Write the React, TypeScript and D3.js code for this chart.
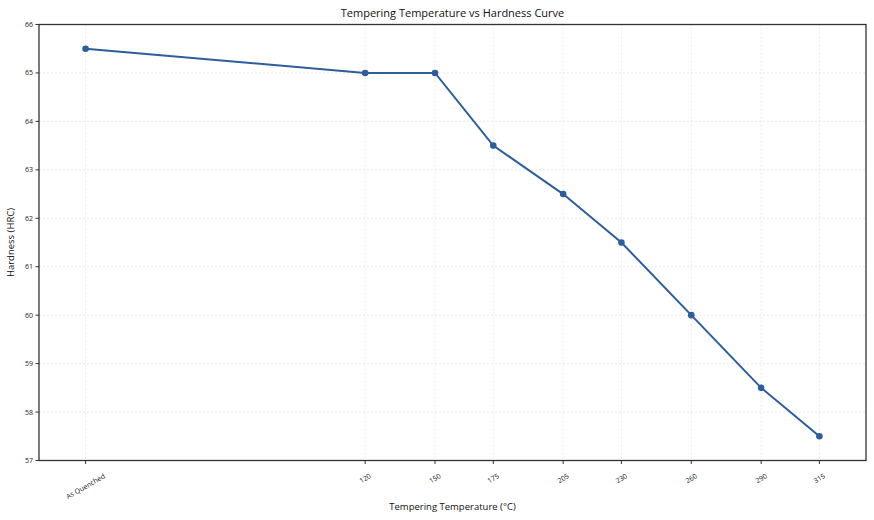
import React from "react";
import * as d3 from "d3";

const temperatures = [0, 120, 150, 175, 205, 230, 260, 290, 315];
const tickLabels = ["As Quenched", "120", "150", "175", "205", "230", "260", "290", "315"];
const hardness = [65.5, 65, 65, 63.5, 62.5, 61.5, 60, 58.5, 57.5];
const yTicks = [57, 58, 59, 60, 61, 62, 63, 64, 65, 66];

const W = 874, H = 520;
const m = { left: 39, right: 866, top: 24.5, bottom: 460.5 };
const font = "'Open Sans', 'DejaVu Sans', sans-serif";
const lineColor = "#2c5d9c";
const tickFont = 7;

function measure(s: string, size: number): number {
  const c = document.createElement("canvas").getContext("2d");
  if (!c) return s.length * size * 0.55;
  c.font = `${size}px 'Open Sans'`;
  return c.measureText(s).width;
}

export default function App() {
  const x = d3.scaleLinear().domain([-20, 335]).range([m.left, m.right]);
  const y = d3.scaleLinear().domain([57, 66]).range([m.bottom, m.top]);
  const pts = temperatures.map((t, i) => [t, hardness[i]] as [number, number]);
  const line = d3.line<[number, number]>().x(d => x(d[0])).y(d => y(d[1]));
  const sin = Math.sin(Math.PI / 6), cos = Math.cos(Math.PI / 6);
  return (
    <svg width={W} height={H} style={{ position: "absolute", left: 0, top: 0, background: "#fff" }}>
      <rect x={0} y={0} width={W} height={H} fill="#fff" />
      {temperatures.map((t, i) => (
        <line key={"gx" + i} x1={x(t)} x2={x(t)} y1={m.top} y2={m.bottom} stroke="#dcdcdc" strokeWidth={0.6} strokeDasharray="2,2" />
      ))}
      {yTicks.map((v, i) => (
        <line key={"gy" + i} x1={m.left} x2={m.right} y1={y(v)} y2={y(v)} stroke="#dcdcdc" strokeWidth={0.6} strokeDasharray="2,2" />
      ))}
      <path d={line(pts) || ""} fill="none" stroke={lineColor} strokeWidth={2} />
      {pts.map((p, i) => (
        <circle key={"c" + i} cx={x(p[0])} cy={y(p[1])} r={3.3} fill={lineColor} />
      ))}
      <rect x={m.left} y={m.top} width={m.right - m.left} height={m.bottom - m.top} fill="none" stroke="#333" strokeWidth={1.3} />
      {yTicks.map((v, i) => (
        <g key={"yt" + i}>
          <line x1={m.left - 3.5} x2={m.left} y1={y(v)} y2={y(v)} stroke="#333" strokeWidth={1} />
          <text x={m.left - 6} y={y(v)} dy="0.35em" textAnchor="end" fontSize={tickFont} fontFamily={font} fill="#222">{v}</text>
        </g>
      ))}
      {temperatures.map((t, i) => {
        const w = measure(tickLabels[i], tickFont);
        const h = tickFont * 1.15;
        const cy = m.bottom + 11.5 + (w * sin + h * cos) / 2;
        return (
          <g key={"xt" + i}>
            <line x1={x(t)} x2={x(t)} y1={m.bottom} y2={m.bottom + 3.5} stroke="#333" strokeWidth={1} />
            <text transform={`translate(${x(t)},${cy}) rotate(-30)`} textAnchor="middle" dy="0.35em" fontSize={tickFont} fontFamily={font} fill="#222">{tickLabels[i]}</text>
          </g>
        );
      })}
      <text x={(m.left + m.right) / 2} y={17} textAnchor="middle" fontSize={11} fontFamily={font} fill="#111">Tempering Temperature vs Hardness Curve</text>
      <text x={(m.left + m.right) / 2} y={510} textAnchor="middle" fontSize={9.5} fontFamily={font} fill="#111">Tempering Temperature (°C)</text>
      <text transform={`translate(14,${(m.top + m.bottom) / 2}) rotate(-90)`} textAnchor="middle" fontSize={9.5} fontFamily={font} fill="#111">Hardness (HRC)</text>
    </svg>
  );
}
